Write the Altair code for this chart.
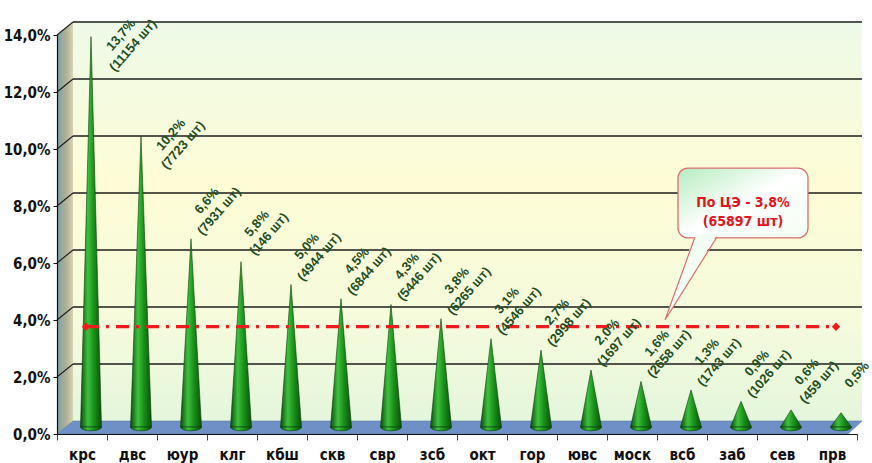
import altair as alt
import pandas as pd

# ---- data ----
cats = ["крс", "двс", "юур", "клг", "кбш", "скв", "свр", "зсб",
        "окт", "гор", "ювс", "моск", "всб", "заб", "сев", "прв"]
pct = [13.7, 10.2, 6.6, 5.8, 5.0, 4.5, 4.3, 3.8, 3.1, 2.7, 2.0, 1.6, 1.3, 0.9, 0.6, 0.5]
counts = [11154, 7723, 7931, 146, 4944, 6844, 5446, 6265, 4546, 2998,
          1697, 2658, 1743, 1026, 459, None]
y_ticks = [0, 2, 4, 6, 8, 10, 12, 14]
total_pct = 3.8
total_count = 65897

W, H = 800, 399
DX, DY = 16, 13          # depth of the 3D box in pixels
FONT = "Liberation Sans Narrow, DejaVu Sans Condensed, Liberation Sans, sans-serif"
LFONT = "Liberation Sans, Arial, sans-serif"

def fmt(v):
    return f"{v:.1f}".replace(".", ",") + "%"

n = len(cats)
xq = alt.Scale(domain=[-0.5, n - 0.5], nice=False, zero=False)
ys = alt.Scale(domain=[0, 14], nice=False, zero=True)

# one shared y axis definition, used by every layer so that they merge
yaxis = alt.Axis(title=None, values=y_ticks, grid=False, orient="left",
                 labelExpr="replace(format(datum.value, '.1f'), '.', ',') + '%'",
                 labelFont=FONT, labelFontSize=15, labelFontWeight="bold",
                 labelColor="#111", labelPadding=3, tickSize=4,
                 tickColor="#111", domainColor="#111", domainWidth=1.2, zindex=1)

def Yf(field):
    return alt.Y(field, scale=ys, axis=yaxis, stack=None)

def Yd(val):
    return alt.YDatum(val, scale=ys, axis=yaxis)

base_df = pd.DataFrame({"cat": cats, "idx": list(range(n)), "v": pct,
                        "b": [0.0] * n})

cone_rows = []
for i, (c, v) in enumerate(zip(cats, pct)):
    for dx, yy in [(-0.21, 0.0), (0.0, v), (0.21, 0.0)]:
        cone_rows.append({"cat": c, "cx": i + dx, "cy": yy, "b": 0.0})
cone_df = pd.DataFrame(cone_rows)

lab_rows = []
for i, (c, v, cnt) in enumerate(zip(cats, pct, counts)):
    txt = fmt(v) + (f"\n({cnt} шт)" if cnt is not None else "")
    top = v > 9
    lab_rows.append({"cat": c, "lx": i + (0.78 if top else 0.5),
                     "ly": v + (0.3 if top else 1.58), "txt": txt})
lab_df = pd.DataFrame(lab_rows)

grid_df = pd.DataFrame({"t": y_ticks[1:]})
line_df = pd.DataFrame({"idx": [0, n - 1], "v": [total_pct, total_pct]})

# ---- gradients ----
wall_grad = {"gradient": "linear", "x1": 0, "y1": 0, "x2": 0, "y2": 1,
             "stops": [{"offset": 0, "color": "#eefae8"},
                       {"offset": 0.4, "color": "#fdfcd6"},
                       {"offset": 0.75, "color": "#f6fbdc"},
                       {"offset": 1, "color": "#e4f6dc"}]}
side_grad = {"gradient": "linear", "x1": 0, "y1": 0, "x2": 1, "y2": 0,
             "stops": [{"offset": 0, "color": "#7b9ea6"},
                       {"offset": 0.6, "color": "#b2b296"},
                       {"offset": 1, "color": "#d8d4b6"}]}
cone_grad = {"gradient": "linear", "x1": 0, "y1": 0, "x2": 1, "y2": 0,
             "stops": [{"offset": 0, "color": "#0a4d0a"},
                       {"offset": 0.35, "color": "#3fc03f"},
                       {"offset": 0.6, "color": "#1c961c"},
                       {"offset": 1, "color": "#0a500a"}]}
box_grad = {"gradient": "linear", "x1": 0, "y1": 0, "x2": 1, "y2": 1,
            "stops": [{"offset": 0, "color": "#b6ecbf"},
                      {"offset": 0.5, "color": "#ffffff"},
                      {"offset": 1, "color": "#f2fff2"}]}

# ---- axes (invisible marks) ----
axes = alt.Chart(base_df).mark_bar(opacity=0).encode(
    x=alt.X("cat:N", sort=cats,
            scale=alt.Scale(type="band", paddingInner=0, paddingOuter=0),
            axis=alt.Axis(title=None, labelAngle=0, labelFont=FONT, labelFontSize=15,
                          labelFontWeight="bold", labelColor="#111", labelPadding=7,
                          tickBand="extent", tickSize=6, tickColor="#444",
                          domainColor="#111", domainWidth=1.2, zindex=1)),
    y=Yf("v:Q")
)

# ---- 3D box ----
one = base_df.head(1)
back_wall = alt.Chart(one).mark_rect(
    fill=wall_grad, yOffset=-DY, y2Offset=-DY
).encode(x=alt.value(DX), x2=alt.value(W + 5), y=Yd(14), y2=alt.Y2Datum(0))

side_wall = alt.Chart(one).mark_point(
    shape=f"M0,0 L{DX},{-DY} L{DX},{H - DY} L0,{H} Z",
    size=4, filled=True, fill=side_grad, strokeWidth=0, opacity=1
).encode(x=alt.value(0), y=Yd(14))

floor = alt.Chart(one).mark_point(
    shape=f"M0,0 L{DX},{-DY} L{W + 5},{-DY} L{W - 9},0 Z",
    size=4, filled=True, fill="#6f90c6", stroke="#5a78a8", strokeWidth=0.6, opacity=1
).encode(x=alt.value(0), y=Yd(0))

grid = alt.Chart(grid_df).mark_rule(
    yOffset=-DY, color="#1e1e1e", strokeWidth=1.3
).encode(x=alt.value(DX), x2=alt.value(W + 5), y=Yf("t:Q"))

connect = alt.Chart(grid_df).mark_rule(
    y2Offset=-DY, color="#1e1e1e", strokeWidth=1.1
).encode(x=alt.value(0), x2=alt.value(DX), y=Yf("t:Q"), y2="t:Q")

# ---- cones ----
cones = alt.Chart(cone_df).mark_area(
    orient="vertical", fill=cone_grad, stroke="#0a3f0a", strokeWidth=0.6,
    xOffset=9, yOffset=-7, y2Offset=-7
).encode(
    x=alt.X("cx:Q", scale=xq, axis=None),
    y=Yf("cy:Q"),
    y2="b:Q",
    detail="cat:N"
)

bases = alt.Chart(base_df).mark_point(
    shape="M-1,0 A1,0.36 0 0,0 1,0 Z", size=441, filled=True, fill=cone_grad,
    stroke="#0a3f0a", strokeWidth=0.6, opacity=1, xOffset=9, yOffset=-7
).encode(x=alt.X("idx:Q", scale=xq, axis=None), y=Yf("b:Q"))

# ---- overall line ----
avg_line = alt.Chart(line_df).mark_line(
    color="#ee1c1c", strokeWidth=3.2, strokeDash=[13, 7, 3, 7], xOffset=4, yOffset=1
).encode(x=alt.X("idx:Q", scale=xq, axis=None), y=Yf("v:Q"))

avg_mark = alt.Chart(line_df).mark_point(
    shape="diamond", size=70, filled=True, color="#ee1c1c", opacity=1, xOffset=4, yOffset=1
).encode(x=alt.X("idx:Q", scale=xq, axis=None), y=Yf("v:Q"))

# ---- callout ----
tail_fill = alt.Chart(one).mark_point(
    shape="M0,0 L30,-86 L52,-86 Z", size=4, filled=True, fill="#eafaea",
    strokeWidth=0, opacity=1
).encode(x=alt.XDatum(11.66, scale=xq, axis=None), y=Yd(4.0))

box = alt.Chart(one).mark_rect(
    cornerRadius=10, fill=box_grad, stroke="#d77070", strokeWidth=1.3
).encode(x=alt.XDatum(11.92, scale=xq, axis=None), x2=alt.X2Datum(14.52),
         y=Yd(9.33), y2=alt.Y2Datum(6.88))

tail_fill2 = alt.Chart(one).mark_point(
    shape="M0,0 L30,-86 L52,-86 Z", size=4, filled=True, fill="#f4fdf4",
    strokeWidth=0, opacity=1
).encode(x=alt.XDatum(11.66, scale=xq, axis=None), y=Yd(4.0))

tail_line = alt.Chart(one).mark_point(
    shape="M0,0 L30,-83 M0,0 L52,-83", size=4, filled=False,
    stroke="#d77070", strokeWidth=1.2, opacity=1
).encode(x=alt.XDatum(11.66, scale=xq, axis=None), y=Yd(4.0))

box_text = alt.Chart(one).mark_text(
    text=[f"По ЦЭ - {fmt(total_pct)}", f"({total_count} шт)"],
    font=FONT, fontSize=14, fontWeight="bold", color="#e2141c",
    lineHeight=19, align="center", baseline="middle"
).encode(x=alt.XDatum(13.22, scale=xq, axis=None), y=Yd(8.1))

# ---- data labels ----
labels = alt.Chart(lab_df).mark_text(
    lineBreak="\n", angle=311, align="center", baseline="middle",
    font=LFONT, fontSize=13, fontWeight="bold", color="#1f4d1f", lineHeight=16
).encode(x=alt.X("lx:Q", scale=xq, axis=None), y=Yf("ly:Q"), text="txt:N")

chart = alt.layer(
    axes, back_wall, side_wall, floor, grid, connect, cones, bases,
    avg_line, avg_mark, tail_fill, box, tail_fill2, tail_line, box_text, labels
).resolve_scale(x="independent").properties(
    width=W, height=H,
    autosize=alt.AutoSizeParams(type="none"),
    padding={"left": 57, "top": 35, "right": 15, "bottom": 29},
    background="white"
).configure_view(stroke=None)

chart.save("out.html", embed_options={"renderer": "svg", "actions": False})
